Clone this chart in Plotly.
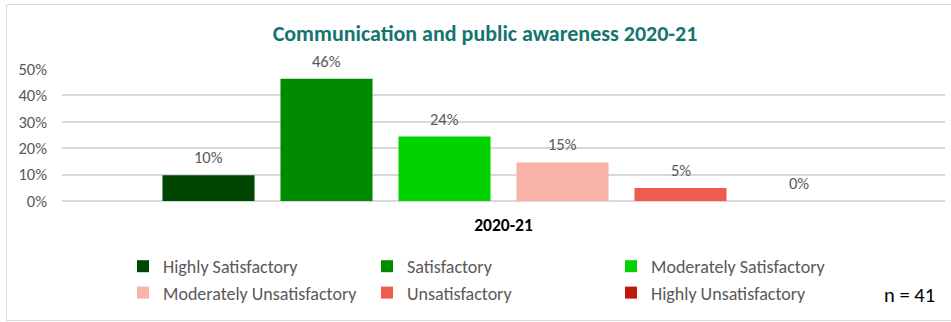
import plotly.graph_objects as go

# Survey ratings for communication and public awareness, 2020-21 (n = 41)
categories = [
    "Highly Satisfactory",
    "Satisfactory",
    "Moderately Satisfactory",
    "Moderately Unsatisfactory",
    "Unsatisfactory",
    "Highly Unsatisfactory",
]
shares = [0.098, 0.463, 0.244, 0.146, 0.049, 0.0]
colors = ["#004600", "#008A00", "#00D300", "#F8B3A6", "#F05B50", "#C0180D"]
period = "2020-21"
y_ticks = [0, 0.1, 0.2, 0.3, 0.4, 0.5]
sample_note = "n = 41"

FONT = "Carlito, Lato, 'Open Sans', sans-serif"
GREY = "#595959"

W, H = 951, 322
ML, MR, MT, MB = 62, 6, 69, 121
pw, ph = W - ML - MR, H - MT - MB

fig = go.Figure()
for i, (name, val, col) in enumerate(zip(categories, shares, colors)):
    fig.add_trace(go.Bar(
        x=[i], y=[val], name=name, width=0.78,
        marker=dict(color=col, line=dict(width=0)),
        hoverinfo="skip",
    ))
    fig.add_annotation(
        x=i, y=val, text=f"{val:.0%}", showarrow=False, yshift=18,
        font=dict(family=FONT, size=16.5, color=GREY),
    )

centre = (len(categories) - 1) / 2
half_span = pw / 118 / 2

# outer chart frame, converted from pixels to paper units
def px_x(p):
    return (p - ML) / pw

def px_y(p):
    return (H - MB - p) / ph

fig.add_shape(type="rect", xref="paper", yref="paper",
              x0=px_x(6.5), x1=px_x(955), y0=px_y(320.5), y1=px_y(4.5),
              line=dict(color="#D9D9D9", width=1), fillcolor="rgba(0,0,0,0)",
              layer="below")

fig.add_annotation(
    xref="paper", yref="paper", x=px_x(909), y=px_y(295),
    xanchor="center", yanchor="middle", text=sample_note,
    showarrow=False, font=dict(family=FONT, size=20.5, color="#000000"),
)

fig.update_layout(
    width=W, height=H,
    margin=dict(l=ML, r=MR, t=MT, b=MB, pad=0, autoexpand=False),
    paper_bgcolor="white", plot_bgcolor="white",
    title=dict(
        text="<b>Communication and public awareness 2020-21</b>",
        x=485 / W, xanchor="center", y=1 - 33 / H, yanchor="middle",
        font=dict(family=FONT, size=22, color="#14746F"),
    ),
    showlegend=True,
    legend=dict(
        orientation="h", x=px_x(123), xanchor="left", y=px_y(248), yanchor="top",
        entrywidth=199, entrywidthmode="pixels", traceorder="normal",
        font=dict(family=FONT, size=18, color=GREY),
        itemclick=False, itemdoubleclick=False, tracegroupgap=0,
        bgcolor="rgba(0,0,0,0)",
    ),
    xaxis=dict(
        range=[centre - half_span, centre + half_span],
        tickvals=[centre], ticktext=[f"<b>{period}</b>"],
        showgrid=False, zeroline=False, showline=False, ticks="",
        ticklabelstandoff=11,
        tickfont=dict(family=FONT, size=17.5, color="#000000"),
        fixedrange=True,
    ),
    yaxis=dict(
        range=[0, 0.5], tickvals=y_ticks, tickformat=".0%",
        showgrid=True, gridcolor="#D9D9D9", gridwidth=1.5,
        zeroline=True, zerolinecolor="#D9D9D9", zerolinewidth=1.5,
        showline=False, ticks="", ticklabelstandoff=14,
        tickfont=dict(family=FONT, size=16.5, color=GREY),
        fixedrange=True,
    ),
)

fig.write_html("out.html", config={"displayModeBar": False})
